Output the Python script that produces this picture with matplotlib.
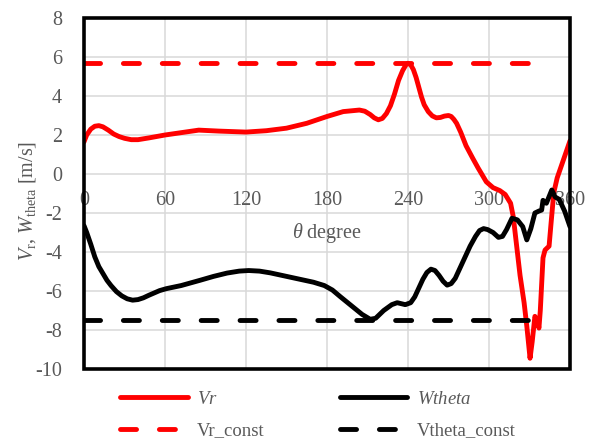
import matplotlib
matplotlib.use("Agg")
import matplotlib.pyplot as plt
from matplotlib.patches import Rectangle


plt.rcParams["font.family"] = ["Liberation Serif", "DejaVu Serif"]
plt.rcParams["mathtext.fontset"] = "custom"
plt.rcParams["mathtext.rm"] = "Liberation Serif"
plt.rcParams["mathtext.it"] = "Liberation Serif:italic"
plt.rcParams["axes.unicode_minus"] = False

GREY = "#595959"

# Vr curve
vr_theta = [0, 2, 5, 8, 11, 14, 18, 22, 26, 30, 35, 40, 48, 60, 75, 85, 100,
            120, 135, 150, 165, 180, 192, 204, 208, 212, 215, 218, 221, 224,
            227, 230, 233, 236, 238.5, 240, 242, 244, 246, 248, 250, 252, 255,
            258, 261, 264, 267, 270, 272, 274, 276, 279, 283, 288, 292, 298,
            303, 308, 312, 316, 318, 320, 323, 326, 328, 330.4, 332, 334, 336,
            337, 338, 340, 341.5, 344.5, 346, 348, 350.5, 353, 357, 360]
vr_vals = [1.65, 2.0, 2.3, 2.45, 2.48, 2.42, 2.25, 2.05, 1.92, 1.83, 1.76,
           1.76, 1.85, 2.0, 2.15, 2.25, 2.2, 2.15, 2.22, 2.35, 2.6, 2.95, 3.2,
           3.28, 3.22, 3.05, 2.88, 2.78, 2.85, 3.1, 3.5, 4.1, 4.8, 5.3, 5.6,
           5.68, 5.6, 5.35, 4.95, 4.45, 3.95, 3.55, 3.2, 2.98, 2.88, 2.9, 2.97,
           3.0, 2.95, 2.8, 2.6, 2.15, 1.45, 0.8, 0.3, -0.4, -0.7, -0.85, -1.05,
           -1.5, -2.2, -3.4, -5.2, -6.6, -7.8, -9.45, -8.6, -7.3, -7.6, -7.9,
           -7.0, -4.3, -3.9, -3.7, -2.5, -0.95, -0.2, 0.3, 1.1, 1.7]

# Wtheta curve
wt_theta = [0, 2, 5, 8, 11, 14, 17, 20, 24, 28, 32, 36, 40, 44, 48, 52, 56, 61,
            72, 86, 96, 106, 115, 122, 130, 138, 148, 160, 170, 178, 184, 190,
            198, 206, 212, 216, 222, 228, 232, 238, 242, 245, 248, 251, 254,
            257, 260, 263, 266, 269, 272, 275, 278, 282, 286, 290, 293, 296,
            299, 303, 307, 310, 313, 317, 321, 325, 328, 331, 334, 337, 339,
            340, 342.5, 346.5, 349, 352, 356, 360]
wt_vals = [-2.65, -3.0, -3.6, -4.25, -4.75, -5.1, -5.45, -5.72, -6.03, -6.25,
           -6.4, -6.47, -6.44, -6.35, -6.22, -6.1, -5.98, -5.88, -5.72, -5.45,
           -5.25, -5.08, -4.98, -4.95, -4.98, -5.07, -5.22, -5.4, -5.55, -5.72,
           -5.95, -6.3, -6.75, -7.2, -7.45, -7.4, -7.0, -6.7, -6.6, -6.7, -6.6,
           -6.3, -5.85, -5.4, -5.05, -4.88, -4.95, -5.2, -5.5, -5.7, -5.62,
           -5.35, -4.9, -4.3, -3.7, -3.2, -2.9, -2.8, -2.85, -3.0, -3.25, -3.2,
           -2.85, -2.27, -2.35, -2.7, -3.38, -2.8, -2.0, -1.9, -1.85, -1.35,
           -1.5, -0.82, -1.18, -1.3, -1.9, -2.7]

# constant reference lines
const_theta = [0, 345]
vr_const = [5.7, 5.7]
vtheta_const = [-7.5, -7.5]

x_ticks = [0, 60, 120, 180, 240, 300, 360]
y_ticks = [-10, -8, -6, -4, -2, 0, 2, 4, 6, 8]

fig = plt.figure(figsize=(5.92, 4.43), dpi=100)
ax = fig.add_axes([84 / 592, 1 - 369 / 443, 486 / 592, 351 / 443])

LW = 3.5
l1, = ax.plot(vr_theta, vr_vals, color="red", lw=LW, solid_capstyle="round",
              solid_joinstyle="round", label="$Vr$", zorder=3)
l2, = ax.plot(wt_theta, wt_vals, color="black", lw=LW, solid_capstyle="round",
              solid_joinstyle="round", label="$Wtheta$", zorder=3)
l3, = ax.plot(const_theta, vr_const, color="red", lw=LW, dashes=(3.3, 4.7),
              dash_capstyle="round", label="Vr_const", zorder=3)
l4, = ax.plot(const_theta, vtheta_const, color="black", lw=LW, dashes=(3.3, 4.7),
              dash_capstyle="round", label="Vtheta_const", zorder=3)

ax.set_xlim(0, 360)
ax.set_ylim(-10, 8)
ax.set_xticks(x_ticks)
ax.set_yticks(y_ticks)
ax.grid(True, color="#d9d9d9", lw=1.1, zorder=0)
ax.set_axisbelow(True)

# x tick labels sit on the zero line, frame drawn separately
ax.spines["bottom"].set_position(("data", 0))
for s in ax.spines.values():
    s.set_visible(False)
ax.add_patch(Rectangle((0, 0), 1, 1, transform=ax.transAxes, fill=False,
                       lw=2.6, edgecolor="black", clip_on=False, zorder=5))

ax.tick_params(axis="x", length=0, pad=12, labelsize=14.5, labelcolor=GREY)
ax.tick_params(axis="y", length=0, pad=16, labelsize=14.5, labelcolor=GREY)

ax.set_xlabel(r"$\theta$ degree", fontsize=14.5, color=GREY, labelpad=8)
ax.set_ylabel(r"$V_{\mathrm{r}}$, $W_{\mathrm{theta}}$ [m/s]", fontsize=14.5,
              color=GREY)
ax.yaxis.set_label_coords(-0.095, 0.48)

leg = fig.legend(handles=[l1, l3, l2, l4], ncol=2, frameon=False,
                 loc="center", bbox_to_anchor=(318 / 592, 1 - 415 / 443),
                 fontsize=13.5, handlelength=3.6, columnspacing=4.0,
                 labelspacing=0.75, handletextpad=0.5)
for t in leg.get_texts():
    t.set_color(GREY)

fig.savefig("out.png", dpi=100)
